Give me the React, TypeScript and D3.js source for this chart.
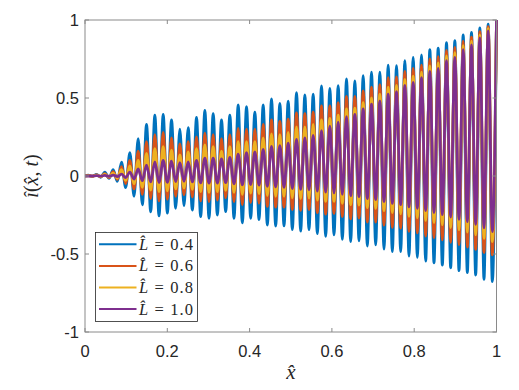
import React from "react";
import * as d3 from "d3";

// ---- data ----
const seriesNames = ["0.4", "0.6", "0.8", "1.0"];
const seriesColors = ["#0072BD", "#D95319", "#EDB120", "#7E2F8E"];
const xTicks = [0, 0.2, 0.4, 0.6, 0.8, 1];
const yTicks = [-1, -0.5, 0, 0.5, 1];
const xTickLabels = ["0", "0.2", "0.4", "0.6", "0.8", "1"];
const yTickLabels = ["-1", "-0.5", "0", "0.5", "1"];

// oscillation period in x̂ (peak spacing measured on the picture)
const PERIOD = 0.02025;

// upper extremes (one per cycle, ascending x̂, last one at x̂ = 1)
const peaksL04 = [0.005, 0.01, 0.025, 0.04, 0.088, 0.15, 0.24, 0.33, 0.39, 0.395,
  0.36, 0.3, 0.31, 0.375, 0.42, 0.4, 0.36, 0.39, 0.455, 0.444,
  0.41, 0.455, 0.495, 0.466, 0.48, 0.534, 0.52, 0.524, 0.577, 0.562,
  0.579, 0.622, 0.609, 0.643, 0.665, 0.665, 0.71, 0.707, 0.74, 0.76,
  0.776, 0.81, 0.82, 0.855, 0.868, 0.904, 0.92, 0.95, 0.974, 1.0];
const peaksL06 = [0.003, 0.007, 0.015, 0.028, 0.06, 0.1, 0.16, 0.22, 0.265, 0.28,
  0.245, 0.205, 0.22, 0.25, 0.275, 0.265, 0.24, 0.265, 0.305, 0.3,
  0.3, 0.33, 0.36, 0.35, 0.365, 0.405, 0.4, 0.41, 0.45, 0.45,
  0.47, 0.51, 0.51, 0.545, 0.57, 0.585, 0.63, 0.635, 0.67, 0.69,
  0.71, 0.75, 0.765, 0.805, 0.825, 0.865, 0.89, 0.925, 0.958, 1.0];
const peaksL08 = [0.002, 0.005, 0.01, 0.018, 0.04, 0.065, 0.1, 0.145, 0.175, 0.188,
  0.165, 0.135, 0.155, 0.175, 0.2, 0.188, 0.16, 0.188, 0.22, 0.22,
  0.22, 0.245, 0.27, 0.265, 0.28, 0.315, 0.315, 0.33, 0.36, 0.37,
  0.39, 0.43, 0.435, 0.47, 0.5, 0.525, 0.57, 0.58, 0.62, 0.64,
  0.665, 0.705, 0.725, 0.77, 0.79, 0.835, 0.865, 0.905, 0.945, 1.0];
const peaksL10 = [0.0, 0.002, 0.004, 0.006, 0.012, 0.025, 0.045, 0.07, 0.09, 0.1,
  0.095, 0.085, 0.09, 0.1, 0.115, 0.115, 0.11, 0.12, 0.14, 0.15,
  0.155, 0.17, 0.19, 0.195, 0.21, 0.235, 0.245, 0.26, 0.29, 0.32,
  0.345, 0.38, 0.395, 0.43, 0.46, 0.48, 0.525, 0.54, 0.58, 0.6,
  0.63, 0.67, 0.69, 0.74, 0.76, 0.81, 0.84, 0.885, 0.93, 1.0];

// lower extremes (one between each pair of peaks, ascending x̂)
const troughsL04 = [-0.003, -0.008, -0.015, -0.035, -0.075, -0.13, -0.185, -0.23, -0.256, -0.238,
  -0.207, -0.192, -0.218, -0.261, -0.271, -0.25, -0.229, -0.271, -0.3, -0.271,
  -0.28, -0.314, -0.321, -0.32, -0.344, -0.354, -0.344, -0.37, -0.387, -0.378,
  -0.406, -0.421, -0.415, -0.449, -0.442, -0.468, -0.485, -0.485, -0.513, -0.521,
  -0.545, -0.556, -0.571, -0.588, -0.607, -0.62, -0.635, -0.662, -0.677];
const troughsL06 = [-0.002, -0.005, -0.01, -0.022, -0.048, -0.083, -0.118, -0.145, -0.16, -0.15,
  -0.13, -0.12, -0.135, -0.16, -0.165, -0.155, -0.14, -0.165, -0.185, -0.17,
  -0.175, -0.195, -0.2, -0.2, -0.215, -0.22, -0.215, -0.235, -0.245, -0.24,
  -0.26, -0.275, -0.27, -0.295, -0.295, -0.315, -0.33, -0.335, -0.355, -0.365,
  -0.385, -0.395, -0.41, -0.425, -0.44, -0.455, -0.47, -0.49, -0.506];
const troughsL08 = [-0.001, -0.003, -0.006, -0.013, -0.028, -0.05, -0.072, -0.09, -0.1, -0.095,
  -0.083, -0.077, -0.085, -0.1, -0.105, -0.1, -0.092, -0.105, -0.118, -0.11,
  -0.113, -0.125, -0.13, -0.13, -0.14, -0.145, -0.142, -0.155, -0.162, -0.162,
  -0.175, -0.185, -0.187, -0.203, -0.207, -0.222, -0.235, -0.242, -0.258, -0.268,
  -0.285, -0.298, -0.313, -0.33, -0.345, -0.36, -0.378, -0.4, -0.42];
const troughsL10 = [0.0, -0.001, -0.002, -0.004, -0.01, -0.02, -0.03, -0.038, -0.042, -0.04,
  -0.036, -0.034, -0.038, -0.044, -0.046, -0.045, -0.043, -0.05, -0.056, -0.055,
  -0.058, -0.066, -0.07, -0.073, -0.08, -0.086, -0.088, -0.097, -0.104, -0.108,
  -0.118, -0.127, -0.132, -0.145, -0.151, -0.164, -0.176, -0.184, -0.198, -0.207,
  -0.222, -0.234, -0.248, -0.263, -0.278, -0.293, -0.31, -0.333, -0.357];

const peakSets = [peaksL04, peaksL06, peaksL08, peaksL10];
const troughSets = [troughsL04, troughsL06, troughsL08, troughsL10];

// ---- layout ----
const W = 519;
const H = 390;
const M = { left: 85, right: 496.5, top: 20, bottom: 332 };

function buildPoints(peaks: number[], troughs: number[]): [number, number][] {
  const n = peaks.length;
  const pts: [number, number][] = [[0, 0]];
  for (let i = 0; i < n; i++) {
    const px = 1 - PERIOD * (n - 1 - i);
    pts.push([px, peaks[i]]);
    if (i < troughs.length) pts.push([px + PERIOD / 2, troughs[i]]);
  }
  return pts;
}

const SANS = '"Liberation Sans", Arial, Helvetica, sans-serif';
const SERIF = '"Liberation Serif", "Times New Roman", "DejaVu Serif", serif';

export default function App() {
  const x = d3.scaleLinear().domain([0, 1]).range([M.left, M.right]);
  const y = d3.scaleLinear().domain([-1, 1]).range([M.bottom, M.top]);
  const line = d3
    .line<[number, number]>()
    .x((d) => x(d[0]))
    .y((d) => y(d[1]))
    .curve(d3.curveMonotoneX);

  const axisColor = "#8a8a8a";
  const textColor = "#262626";
  const tickLen = 4;
  const sansStyle = { fontFamily: SANS };
  const serifStyle = { fontFamily: SERIF };

  const legend = { x: 95.5, y: 232.5, w: 102, h: 89 };

  return (
    <svg
      width={W}
      height={H}
      style={{ position: "absolute", left: 0, top: 0, background: "#fff" }}
    >
      <rect x={0} y={0} width={W} height={H} fill="#fff" />
      <defs>
        <clipPath id="plotclip">
          <rect x={M.left} y={M.top - 2} width={M.right - M.left + 2} height={M.bottom - M.top + 4} />
        </clipPath>
      </defs>

      {/* series */}
      <g clipPath="url(#plotclip)">
        {peakSets.map((p, i) => (
          <path
            key={i}
            d={line(buildPoints(p, troughSets[i])) || ""}
            fill="none"
            stroke={seriesColors[i]}
            strokeWidth={2.8}
            strokeLinejoin="round"
          />
        ))}
      </g>

      {/* box */}
      <rect
        x={M.left}
        y={M.top}
        width={M.right - M.left}
        height={M.bottom - M.top}
        fill="none"
        stroke={axisColor}
        strokeWidth={1}
      />

      {/* x ticks */}
      {xTicks.map((t, i) => (
        <g key={"xt" + i}>
          <line x1={x(t)} x2={x(t)} y1={M.bottom} y2={M.bottom - tickLen} stroke={axisColor} />
          <line x1={x(t)} x2={x(t)} y1={M.top} y2={M.top + tickLen} stroke={axisColor} />
          <text
            x={x(t)}
            y={357}
            textAnchor="middle"
            style={sansStyle}
            fontSize={16.5}
            fill={textColor}
          >
            {xTickLabels[i]}
          </text>
        </g>
      ))}

      {/* y ticks */}
      {yTicks.map((t, i) => (
        <g key={"yt" + i}>
          <line x1={M.left} x2={M.left + tickLen} y1={y(t)} y2={y(t)} stroke={axisColor} />
          <line x1={M.right} x2={M.right - tickLen} y1={y(t)} y2={y(t)} stroke={axisColor} />
          <text
            x={79}
            y={y(t) + 6}
            textAnchor="end"
            style={sansStyle}
            fontSize={16.5}
            fill={textColor}
          >
            {yTickLabels[i]}
          </text>
        </g>
      ))}

      {/* x label */}
      <text
        x={291}
        y={379}
        textAnchor="middle"
        style={serifStyle}
        fontStyle="italic"
        fontSize={21}
        fill={textColor}
      >
        {"x\u0302"}
      </text>

      {/* y label */}
      <text
        transform={`translate(38, ${y(0)}) rotate(-90)`}
        textAnchor="middle"
        style={serifStyle}
        fontSize={20}
        fill={textColor}
      >
        <tspan fontStyle="italic">{"\u00ee"}</tspan>
        <tspan>(</tspan>
        <tspan fontStyle="italic">{"x\u0302"}</tspan>
        <tspan>, </tspan>
        <tspan fontStyle="italic">t</tspan>
        <tspan>)</tspan>
      </text>

      {/* legend */}
      <rect
        x={legend.x}
        y={legend.y}
        width={legend.w}
        height={legend.h}
        fill="#fff"
        stroke="#262626"
        strokeWidth={0.8}
      />
      {seriesNames.map((name, i) => {
        const ly = 244.3 + i * 21.6;
        return (
          <g key={"lg" + i}>
            <line x1={99} x2={136.5} y1={ly} y2={ly} stroke={seriesColors[i]} strokeWidth={2} />
            <text
              x={139}
              y={ly + 5.5}
              style={serifStyle}
              fontSize={16.5}
              fill={textColor}
              textLength={54}
              lengthAdjust="spacing"
            >
              <tspan fontStyle="italic">{"L\u0302"}</tspan>
              <tspan>{" = " + name}</tspan>
            </text>
          </g>
        );
      })}
    </svg>
  );
}
